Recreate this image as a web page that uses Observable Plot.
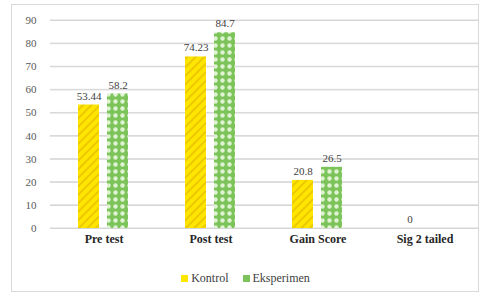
<!DOCTYPE html>
<html>
<head>
<meta charset="utf-8">
<script src="https://cdn.jsdelivr.net/npm/d3@7"></script>
<script src="https://cdn.jsdelivr.net/npm/@observablehq/plot@0.6"></script>
<style>
  body { margin: 0; background: #fff; }
  #wrap { position: relative; width: 491px; height: 299px; font-family: "Liberation Serif", "DejaVu Serif", serif; }
  #frame { position: absolute; left: 11px; top: 4px; width: 468px; height: 288px; border: 1px solid #d9d9d9; box-sizing: border-box; pointer-events: none; }
  #legend { position: absolute; top: 271px; left: 0; width: 491px; display: flex; justify-content: center; gap: 14px;
    font-family: "Liberation Serif", "DejaVu Serif", serif; font-size: 12px; color: #404040; }
  .item { display: flex; align-items: center; gap: 3px; }
  .sw { width: 7px; height: 7px; display: inline-block; }
</style>
</head>
<body>
<div id="wrap">
  <div id="chart"></div>
  <div id="legend"></div>
  <div id="frame"></div>
</div>
<script>
const categories = ["Pre test", "Post test", "Gain Score", "Sig 2 tailed"];
const series = ["Kontrol", "Eksperimen"];
const kontrol = [53.44, 74.23, 20.8, 0];
const eksperimen = [58.2, 84.7, 26.5, 0];
const kontrolLabels = ["53.44", "74.23", "20.8", "0"];
const eksperimenLabels = ["58.2", "84.7", "26.5", ""];
const yTicks = [0, 10, 20, 30, 40, 50, 60, 70, 80, 90];

const data = [];
categories.forEach((c, i) => {
  data.push({category: c, series: "Kontrol", value: kontrol[i], label: kontrolLabels[i]});
  data.push({category: c, series: "Eksperimen", value: eksperimen[i], label: eksperimenLabels[i]});
});
const gridData = [];
categories.forEach(c => yTicks.forEach(v => gridData.push({category: c, v})));

const serif = "Liberation Serif, DejaVu Serif, serif";

const plot = Plot.plot({
  width: 491,
  height: 258,
  marginLeft: 50,
  marginRight: 13,
  marginTop: 20,
  marginBottom: 30,
  style: {fontFamily: serif, fontSize: "11px", color: "#595959", background: "transparent"},
  fx: {domain: categories, padding: 0, label: null, axis: "bottom", tickSize: 0, tickPadding: 6},
  x: {domain: series, paddingInner: 0.27, paddingOuter: 0.92, axis: null},
  y: {domain: [0, 90], ticks: yTicks, label: null, tickSize: 0, tickPadding: 14},
  marks: [
    Plot.ruleY(gridData, {fx: "category", y: "v", stroke: "#d0d0d0", strokeWidth: 1}),
    Plot.barY(gridData, {fx: "category", y1: "v", y2: "v", insetTop: -0.5, insetBottom: -0.5, fill: "#d9d9d9"}),
    Plot.barY(data.filter(d => d.series === "Kontrol" && d.value > 0), {fx: "category", x: "series", y: "value", fill: "url(#hatchK)"}),
    Plot.barY(data.filter(d => d.series === "Eksperimen" && d.value > 0), {fx: "category", x: "series", y: "value", fill: "url(#dotsE)"}),
    Plot.text(data.filter(d => d.label !== ""), {fx: "category", x: "series", y: "value", text: "label", dy: -9, fill: "#404040", fontSize: 11})
  ]
});

const svg = d3.select(plot);
svg.attr("font-family", serif).style("font-family", serif);
svg.selectAll("text").attr("font-family", serif);
const defs = svg.insert("defs", ":first-child");
const pk = defs.append("pattern").attr("id", "hatchK").attr("patternUnits", "userSpaceOnUse")
  .attr("width", 6).attr("height", 6).attr("patternTransform", "rotate(45)");
pk.append("rect").attr("width", 6).attr("height", 6).attr("fill", "#ffe600");
pk.append("rect").attr("width", 2).attr("height", 6).attr("fill", "#ecc800");
const pe = defs.append("pattern").attr("id", "dotsE").attr("patternUnits", "userSpaceOnUse")
  .attr("width", 7).attr("height", 7);
pe.append("rect").attr("width", 7).attr("height", 7).attr("fill", "#7cc45a");
pe.append("circle").attr("cx", 3.5).attr("cy", 3.5).attr("r", 2.2).attr("fill", "#dff3d2");

// bold category labels
svg.selectAll("[aria-label='fx-axis tick label'] text").attr("font-weight", "bold").attr("fill", "#262626").style("font-size", "12px");

document.getElementById("chart").appendChild(plot);

const legend = document.getElementById("legend");
const swatches = {Kontrol: "#ffe600", Eksperimen: "#7cc45a"};
series.forEach(s => {
  const it = document.createElement("span");
  it.className = "item";
  const sw = document.createElement("span");
  sw.className = "sw";
  sw.style.background = swatches[s];
  it.appendChild(sw);
  it.appendChild(document.createTextNode(s));
  legend.appendChild(it);
});
</script>
</body>
</html>
